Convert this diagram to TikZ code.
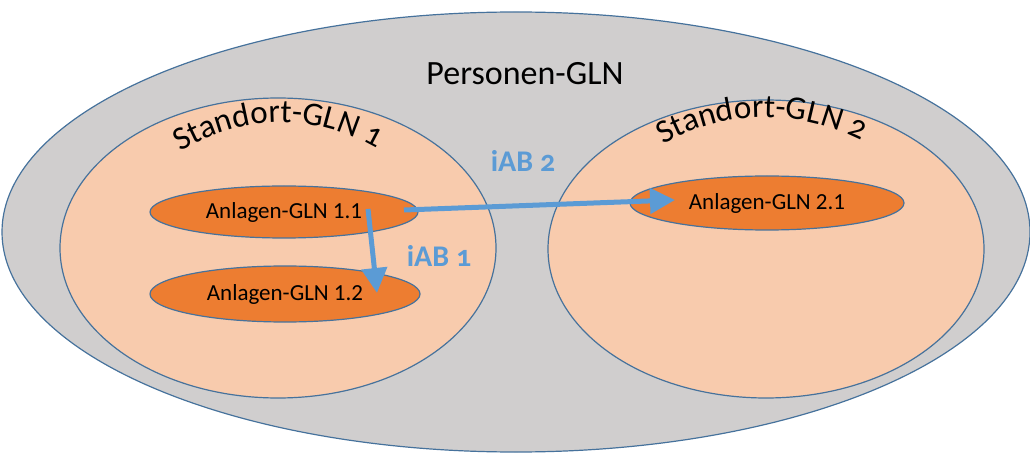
\documentclass[tikz,border=0pt]{standalone}
\usepackage{fontspec}
\setmainfont{Carlito}
\newfontfamily\osfont[Numbers=OldStyle]{Carlito}
\usetikzlibrary{shapes.geometric,arrows.meta,decorations.text}

\definecolor{zonegray}{RGB}{208,206,206}
\definecolor{rimblue}{RGB}{70,114,156}
\definecolor{peach}{RGB}{248,203,173}
\definecolor{plantorange}{RGB}{237,125,49}
\definecolor{flowblue}{RGB}{91,155,213}

\begin{document}
\begin{tikzpicture}[x=1pt,y=-1pt,
    zone/.style={ellipse,draw=rimblue,line width=1.2pt,fill=zonegray,inner sep=0pt},
    site/.style={ellipse,draw=rimblue,line width=1.2pt,fill=peach,inner sep=0pt},
    plant/.style={ellipse,draw=rimblue,line width=1.2pt,fill=plantorange,inner sep=0pt,
      font=\fontsize{23}{23}\selectfont},
    caption/.style={font=\osfont\fontsize{34}{34}\selectfont},
    flowlabel/.style={text=flowblue,font=\osfont\bfseries\fontsize{30}{30}\selectfont},
    flow/.style={draw=flowblue,line width=5pt,-{Triangle[length=25pt,width=25pt]}}]
    \clip (0,0) rectangle (1030,454);

    % ellipses
    \node[zone,minimum width=1028pt,minimum height=440pt] (P) at (516,232) {};
    \node[site,minimum width=436pt,minimum height=300pt] (S1) at (278,248) {};
    \node[site,minimum width=436pt,minimum height=298pt] (S2) at (766,249) {};

    \node[plant,minimum width=268pt,minimum height=52pt] (A11) at (284,212) {Anlagen-GLN 1.1};
    \node[plant,minimum width=270pt,minimum height=56pt] (A12) at (285,294) {Anlagen-GLN 1.2};
    \node[plant,minimum width=274pt,minimum height=54pt] (A21) at (767,203) {Anlagen-GLN 2.1};

    % labels
    \node[caption] (PL) at (525,74) {Personen-GLN};
    \path[decorate,decoration={text along path,text align=center,
        text={|\osfont\fontsize{33}{33}\selectfont|Standort-GLN 1}}]
        (170,158) .. controls (240,111) and (320,111) .. (387,155);
    \path[decorate,decoration={text along path,text align=center,
        text={|\osfont\fontsize{33}{33}\selectfont|Standort-GLN 2}}]
        (655,150) .. controls (720,107) and (800,107) .. (870,145);

    \node[flowlabel] (F1) at (439,256) {iAB 1};
    \node[flowlabel] (F2) at (523,161) {iAB 2};

    % flows
    \coordinate (s1) at (368,209);
    \coordinate (e1) at (377,293);
    \coordinate (s2) at (404,210);
    \coordinate (e2) at (675,200);
    \path (s1) edge[flow] (e1);
    \path (s2) edge[flow] (e2);
\end{tikzpicture}
\end{document}
